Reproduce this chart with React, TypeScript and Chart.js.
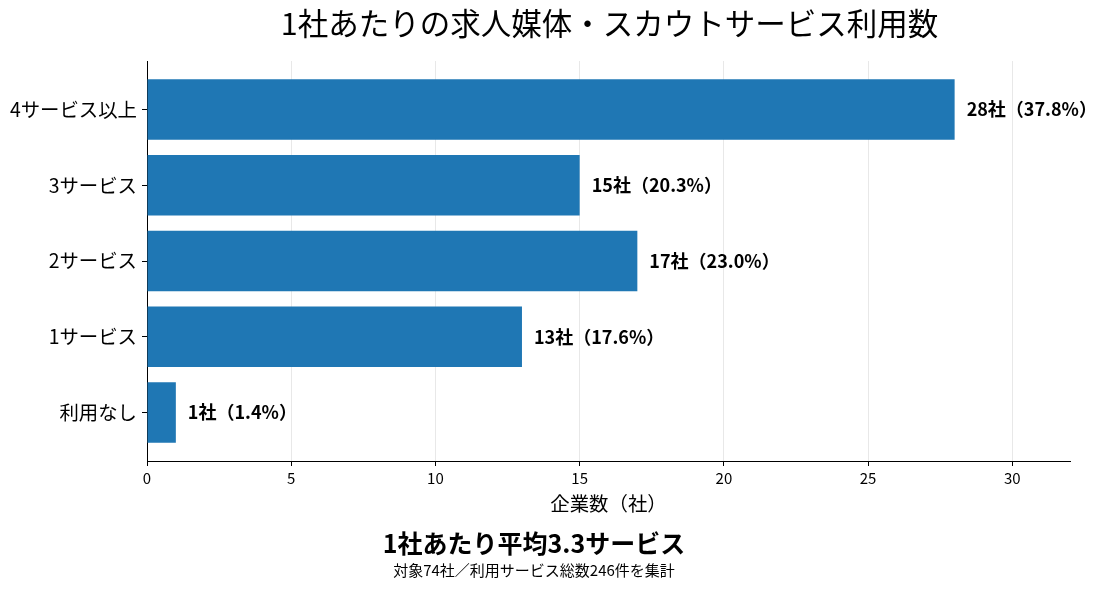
import React, { useEffect, useRef } from 'react';
import { Chart, registerables } from 'chart.js';

Chart.register(...registerables);

// top to bottom
const categories = ['4サービス以上', '3サービス', '2サービス', '1サービス', '利用なし'];
const companies = [28, 15, 17, 13, 1];
const percents = [37.8, 20.3, 23.0, 17.6, 1.4];
const xTicks = [0, 5, 10, 15, 20, 25, 30];

const TITLE = '1社あたりの求人媒体・スカウトサービス利用数';
const FOOT_MAIN = '1社あたり平均3.3サービス';
const FOOT_SUB = '対象74社／利用サービス総数246件を集計';
const FONT = '"Noto Sans CJK JP", "Noto Sans", sans-serif';

const textPlugin = {
  id: 'texts',
  afterDatasetsDraw(chart: Chart) {
    const ctx = chart.ctx;
    const meta = chart.getDatasetMeta(0);
    ctx.save();
    ctx.fillStyle = '#000';
    ctx.textBaseline = 'middle';
    ctx.textAlign = 'left';
    ctx.font = `bold 18px ${FONT}`;
    meta.data.forEach((bar: any, i: number) => {
      ctx.fillText(`${companies[i]}社（${percents[i].toFixed(1)}%）`, bar.x + 12, bar.y);
    });
    ctx.restore();
  },
  afterDraw(chart: Chart) {
    const ctx = chart.ctx;
    const { left, right } = chart.chartArea;
    ctx.save();
    ctx.fillStyle = '#000';
    ctx.textBaseline = 'middle';
    ctx.textAlign = 'center';
    ctx.font = `30.5px ${FONT}`;
    ctx.fillText(TITLE, (left + right) / 2 + 1, 23);
    ctx.font = `bold 25px ${FONT}`;
    ctx.fillText(FOOT_MAIN, 534, 543);
    ctx.font = `15px ${FONT}`;
    ctx.fillText(FOOT_SUB, 534, 570);
    ctx.restore();
  },
};

const ServiceChart = () => {
  const chartRef = useRef<HTMLCanvasElement>(null);
  const chartInstance = useRef<Chart | null>(null);

  useEffect(() => {
    document.body.style.margin = '0';
    if (!chartRef.current) return;
    const ctx = chartRef.current.getContext('2d');
    if (!ctx) return;
    if (chartInstance.current) chartInstance.current.destroy();

    Chart.defaults.font.family = FONT;
    Chart.defaults.color = '#000';

    chartInstance.current = new Chart(ctx, {
      type: 'bar',
      data: {
        datasets: [
          {
            label: '企業数',
            data: companies.map((v, i) => ({ x: v, y: i })),
            backgroundColor: '#1f77b4',
            borderWidth: 0,
            barPercentage: 0.8,
            categoryPercentage: 1.0,
          },
        ],
      },
      options: {
        indexAxis: 'y',
        animation: false,
        responsive: false,
        layout: { padding: { left: 0, top: 61, right: 36, bottom: 0 } },
        plugins: {
          legend: { display: false },
          tooltip: { enabled: false },
        },
        scales: {
          x: {
            type: 'linear',
            min: 0,
            max: 32,
            afterBuildTicks: (scale: any) => {
              scale.ticks = xTicks.map((v) => ({ value: v }));
            },
            afterFit: (scale: any) => {
              scale.height = 128;
            },
            grid: { color: '#e8e8e8', tickColor: '#000', tickLength: 5 },
            border: { color: '#000', width: 1 },
            ticks: { font: { size: 15 }, color: '#000', padding: 3 },
            title: {
              display: true,
              text: '企業数（社）',
              font: { size: 19.4 },
              color: '#000',
              padding: { top: 4, bottom: 74 },
            },
          },
          y: {
            type: 'linear',
            reverse: true,
            offset: false,
            min: -0.64,
            max: 4.64,
            afterBuildTicks: (scale: any) => {
              scale.ticks = categories.map((_, i) => ({ value: i }));
            },
            afterFit: (scale: any) => {
              scale.width = 147;
            },
            grid: { offset: false, drawOnChartArea: false, tickColor: '#000', tickLength: 5 },
            border: { color: '#000', width: 1 },
            ticks: {
              font: { size: 19.4 },
              color: '#000',
              padding: 5,
              callback: (value: any) => categories[value as number] ?? '',
            },
          },
        },
      },
      plugins: [textPlugin],
    });

    return () => {
      if (chartInstance.current) {
        chartInstance.current.destroy();
        chartInstance.current = null;
      }
    };
  }, []);

  return <canvas ref={chartRef} width={1106} height={589} style={{ display: 'block' }}></canvas>;
};

export default function App() {
  return <ServiceChart />;
}
